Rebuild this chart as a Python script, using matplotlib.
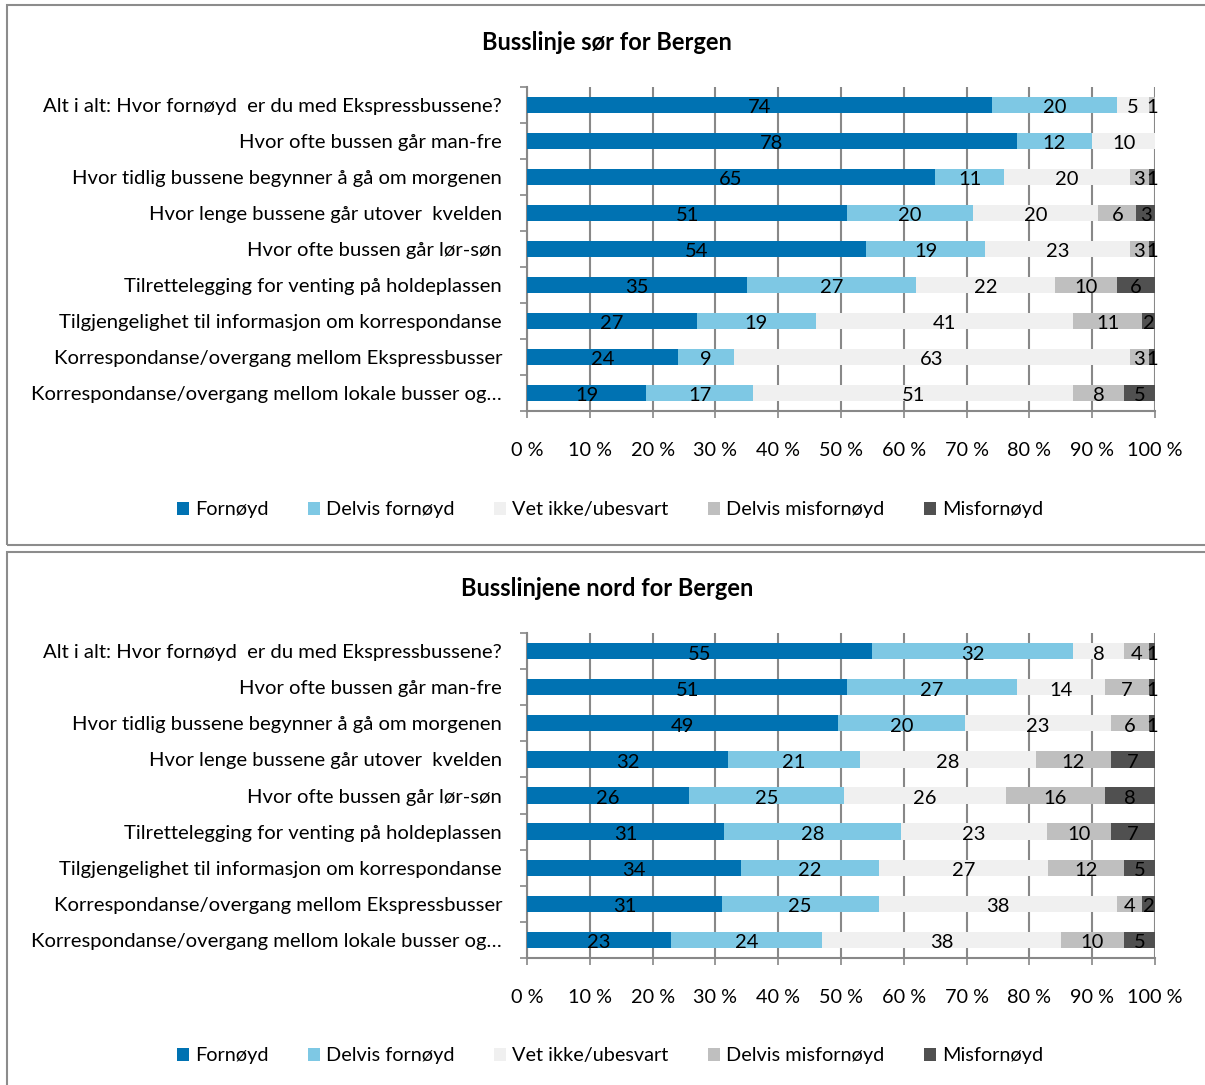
import matplotlib
matplotlib.use("Agg")
import matplotlib.pyplot as plt
from matplotlib.patches import Rectangle
import numpy as np

plt.rcParams['font.family'] = ['Lato', 'DejaVu Sans']

questions = [
    "Alt i alt: Hvor fornøyd  er du med Ekspressbussene?",
    "Hvor ofte bussen går man-fre",
    "Hvor tidlig bussene begynner å gå om morgenen",
    "Hvor lenge bussene går utover  kvelden",
    "Hvor ofte bussen går lør-søn",
    "Tilrettelegging for venting på holdeplassen",
    "Tilgjengelighet til informasjon om korrespondanse",
    "Korrespondanse/overgang mellom Ekspressbusser",
    "Korrespondanse/overgang mellom lokale busser og…",
]
answers = ["Fornøyd", "Delvis fornøyd", "Vet ikke/ubesvart", "Delvis misfornøyd", "Misfornøyd"]
colors = ["#0072b2", "#7ec8e4", "#f0f0f0", "#bfbfbf", "#505050"]

# columns: Fornøyd, Delvis fornøyd, Vet ikke, Delvis misfornøyd, Misfornøyd
sor = [
    [74, 20, 5, 1, 0],
    [78, 12, 10, 0, 0],
    [65, 11, 20, 3, 1],
    [51, 20, 20, 6, 3],
    [54, 19, 23, 3, 1],
    [35, 27, 22, 10, 6],
    [27, 19, 41, 11, 2],
    [24, 9, 63, 3, 1],
    [19, 17, 51, 8, 5],
]
nord = [
    [55, 32, 8, 4, 1],
    [51, 27, 14, 7, 1],
    [49, 20, 23, 6, 1],
    [32, 21, 28, 12, 7],
    [26, 25, 26, 16, 8],
    [31, 28, 23, 10, 7],
    [34, 22, 27, 12, 5],
    [31, 25, 38, 4, 2],
    [23, 24, 38, 10, 5],
]
titles = ["Busslinje sør for Bergen", "Busslinjene nord for Bergen"]
xticks = np.arange(0, 101, 10)

W, H = 1205, 1085
fig = plt.figure(figsize=(W / 100, H / 100), dpi=100)

# panel frames
for (y0, y1) in [(5, 545), (552, 1095)]:
    fig.patches.append(Rectangle((7 / W, 1 - y1 / H), 1.2, (y1 - y0) / H,
                                 transform=fig.transFigure, fill=False,
                                 edgecolor="#8c8c8c", lw=1.5))

panels = [(sor, 87, 411, 42, 510), (nord, 633, 958, 588, 1056)]

for k, (data, ytop, ybot, ytitle, yleg) in enumerate(panels):
    ax = fig.add_axes([527 / W, 1 - ybot / H, 628 / W, (ybot - ytop) / H])
    vals = np.array(data, dtype=float)
    pct = vals / vals.sum(axis=1, keepdims=True) * 100
    y = np.arange(len(questions))
    left = np.zeros(len(questions))
    for j in range(len(answers)):
        ax.barh(y, pct[:, j], left=left, height=0.45, color=colors[j],
                label=answers[j], zorder=3)
        for i in range(len(questions)):
            if vals[i, j] > 0:
                ax.text(left[i] + pct[i, j] / 2, y[i] + 0.04, f"{int(vals[i, j])}",
                        ha="center", va="center_baseline", fontsize=14.5,
                        color="black", zorder=4)
        left += pct[:, j]

    ax.set_xlim(0, 100)
    ax.set_ylim(len(questions) - 0.5, -0.5)
    ax.set_yticks(y)
    ax.set_yticklabels(questions, fontsize=14.6)
    ax.set_yticks(np.arange(-0.5, len(questions)), minor=True)
    ax.tick_params(axis="y", which="major", length=0, pad=18)
    ax.tick_params(axis="y", which="minor", length=5, color="#888888", width=1.2)
    ax.set_xticks(xticks)
    ax.set_xticklabels([f"{t} %" for t in xticks], fontsize=14.3)
    ax.tick_params(axis="x", length=5, color="#888888", width=1.2, pad=17)
    ax.grid(axis="x", color="#888888", lw=1.5, zorder=0)
    for s in ["top", "right"]:
        ax.spines[s].set_visible(False)
    for s in ["left", "bottom"]:
        ax.spines[s].set_color("#888888")
        ax.spines[s].set_linewidth(1.5)

    fig.text(607 / W, 1 - ytitle / H, titles[k], ha="center", va="center",
             fontsize=17, fontweight="bold")

    h, l = ax.get_legend_handles_labels()
    fig.legend(h, l, loc="center", bbox_to_anchor=(610 / W, 1 - yleg / H),
               ncol=5, frameon=False, fontsize=14.3, handlelength=0.6,
               handleheight=0.6, handletextpad=0.3, columnspacing=2.0)

fig.savefig("out.png", dpi=100)
